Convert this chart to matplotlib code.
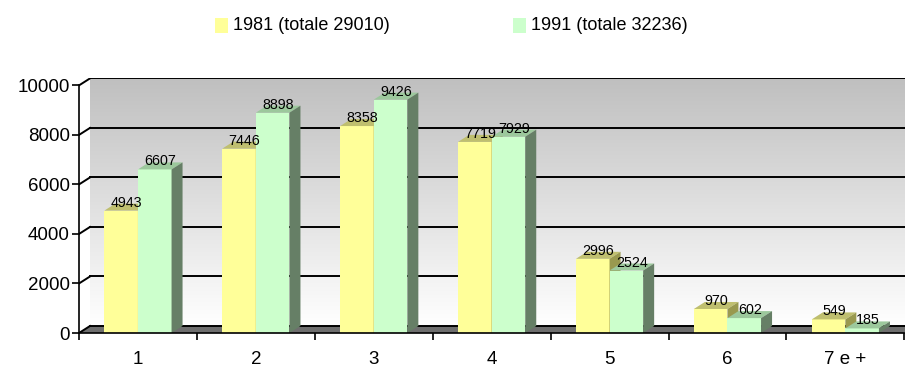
import matplotlib.pyplot as plt
import numpy as np
from matplotlib.patches import Polygon, Rectangle

plt.rcParams['font.family'] = ['Liberation Sans', 'DejaVu Sans']

categories = ["1", "2", "3", "4", "5", "6", "7 e +"]
v1981 = [4943, 7446, 8358, 7719, 2996, 970, 549]
v1991 = [6607, 8898, 9426, 7929, 2524, 602, 185]
series_names = ["1981 (totale 29010)", "1991 (totale 32236)"]
yticks = [0, 2000, 4000, 6000, 8000, 10000]

W, H = 905, 368
fig = plt.figure(figsize=(W / 100, H / 100), dpi=100)

# pixel geometry of the front plane
px_cat = 117.9          # pixels per category
px_val = 247.6 / 10000  # pixels per unit
x_left, y_zero = 79, 333
depth_px = (11, 7)
ddx = depth_px[0] / px_cat
ddy = depth_px[1] / px_val

xlim = (-0.5, 6.6)
ylim = (0, 10300)
ax = fig.add_axes([x_left / W, (H - y_zero) / H,
                   (xlim[1] - xlim[0]) * px_cat / W,
                   (ylim[1] - ylim[0]) * px_val / H])
for s in ax.spines.values():
    s.set_visible(False)

# back wall with grey-to-white gradient
grad = np.linspace(1.0, 0.0, 256).reshape(-1, 1)
top_c = np.array([0.75, 0.75, 0.75])
bot_c = np.array([1.0, 1.0, 1.0])
img = bot_c + (top_c - bot_c) * grad[..., None]
img = img.reshape(256, 1, 3)
ax.imshow(img, extent=(-0.5 + ddx, 7.0, ddy, 10000 + ddy), aspect='auto',
          origin='upper', zorder=0)

# grid lines on the wall and the diagonals back from the axis
for v in yticks[1:]:
    ax.plot([-0.5 + ddx, 7.0], [v + ddy, v + ddy], color='black', lw=1.4, zorder=1)
    ax.plot([-0.5, -0.5 + ddx], [v, v + ddy], color='black', lw=1.4, zorder=1)

# floor
ax.add_patch(Polygon([(-0.5, 0), (7.0, 0), (7.0, ddy), (-0.5 + ddx, ddy)],
                     closed=True, facecolor='#6e6e6e', edgecolor='none', zorder=1))
ax.plot([-0.5 + ddx, 7.0], [ddy, ddy], color='black', lw=1.4, zorder=1)
ax.plot([-0.5, -0.5 + ddx], [0, ddy], color='black', lw=1.4, zorder=1)


def bar3d(x, w, h, face, top, side, z):
    ax.add_patch(Rectangle((x, 0), w, h, facecolor=face, edgecolor='none', zorder=z))
    ax.add_patch(Polygon([(x, h), (x + w, h), (x + w + ddx, h + ddy), (x + ddx, h + ddy)],
                         closed=True, facecolor=top, edgecolor='none', zorder=z))
    ax.add_patch(Polygon([(x + w, 0), (x + w + ddx, ddy), (x + w + ddx, h + ddy), (x + w, h)],
                         closed=True, facecolor=side, edgecolor='none', zorder=z))


bw = 0.285
styles = [("#FFFF99", "#BFBF6F", "#99994F"), ("#CCFFCC", "#9CC89C", "#667F66")]
label_dy = 4 / px_val
for i in range(len(categories)):
    for k, vals in enumerate([v1981, v1991]):
        x = i - bw + k * bw
        face, top, side = styles[k]
        bar3d(x, bw, vals[i], face, top, side, 2 + 2 * i + k * 0.5)
        ax.text(x + bw / 2 + ddx / 2, vals[i] + label_dy, str(vals[i]),
                ha='center', va='baseline', fontsize=10.3, zorder=40)

# front axes lines
ax.plot([-0.5, -0.5], [0, 10000], color='black', lw=1.2, zorder=20, clip_on=False)
ax.plot([-0.5, 6.5], [0, 0], color='black', lw=1.2, zorder=20, clip_on=False)

ax.set_xlim(*xlim)
ax.set_ylim(*ylim)
ax.set_yticks(yticks)
ax.set_yticklabels([str(t) for t in yticks], fontsize=13.5)
ax.set_xticks(np.arange(-0.5, 7, 1.0))
ax.set_xticklabels([])
ax.set_xticks(np.arange(len(categories)), minor=True)
ax.set_xticklabels(categories, minor=True, fontsize=13.5)
ax.tick_params(axis='y', length=5, width=1.2, pad=1.5)
ax.tick_params(axis='x', which='major', length=5, width=1.2)
ax.tick_params(axis='x', which='minor', length=0, pad=13)

# legend
legend_x = [215, 513]
for k, name in enumerate(series_names):
    fig.patches.append(Rectangle((legend_x[k] / W, (H - 33) / H), 13 / W, 15 / H,
                                 transform=fig.transFigure, facecolor=styles[k][0],
                                 edgecolor='none'))
    fig.text((legend_x[k] + 18) / W, (H - 26) / H, name, fontsize=13,
             ha='left', va='center')

fig.savefig("out.png", dpi=100)
